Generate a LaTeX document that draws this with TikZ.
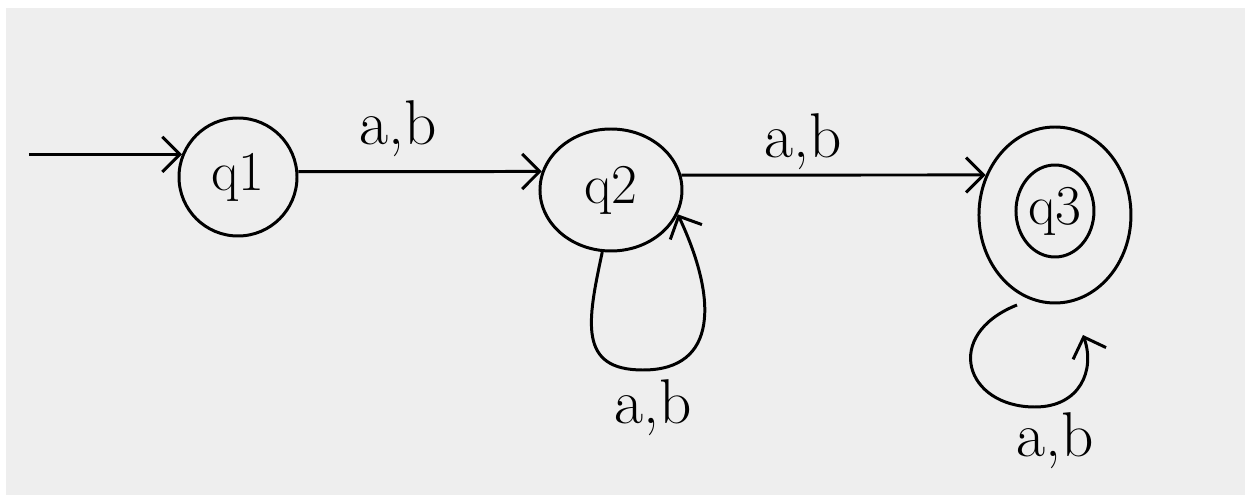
\documentclass[tikz,border=0pt]{standalone}
\usepackage{tikz}
\usetikzlibrary{arrows.meta, positioning, shapes.geometric}
\definecolor{paper}{RGB}{238,238,238}

\begin{document}
\begin{tikzpicture}[
 node distance=4.8cm,
 >={Straight Barb[length=3.5mm,width=7mm]},
 every path/.style={line width=1.7pt},
 state/.style={circle,draw=black,line width=1.7pt,
   minimum size=2.36cm,inner sep=0pt,
   font=\fontsize{32}{36}\selectfont},
 ovalstate/.style={ellipse,draw=black,line width=1.7pt,inner sep=0pt,
   font=\fontsize{32}{36}\selectfont},
 edgelabel/.style={font=\fontsize{36}{40}\selectfont,inner sep=2pt}]
 \useasboundingbox (0,0) rectangle (25.02,10.04);
 \fill[white] (0,0) rectangle (25.02,10.04);
 \fill[paper] (0.12,0.14) rectangle (24.9,9.88);
 \node[state] (q1) at (4.76,6.5) {q1};
 \node[ovalstate,minimum width=2.84cm,minimum height=2.44cm,
   right=4.8cm of q1,yshift=-0.26cm] (q2) {q2};
 \node[ovalstate,minimum width=3.04cm,minimum height=3.52cm,
   right=5.88cm of q2,yshift=-0.5cm] (q3) {};
 \node[ovalstate,minimum width=1.56cm,minimum height=1.84cm]
   (q3in) at ([yshift=0.08cm]q3.center) {q3};
 \coordinate[left=3.06cm of q1.158] (start);
 \coordinate (q2loop) at ([shift={(0.64,-3.6)}]q2.center);
 \coordinate (q3from) at ([shift={(-0.76,-1.8)}]q3.center);
 \coordinate (q3loop) at ([shift={(-0.4,-3.84)}]q3.center);
 \coordinate (q3to) at ([shift={(0.56,-2.4)}]q3.center);
 \draw[->] (start) -- (q1.158);
 \draw[->] (q1.5) --
   node[edgelabel,above=0.2cm,pos=0.41]{a,b} (q2.165);
 \draw[->] (q2.12) --
   node[edgelabel,above=0pt,pos=0.4]{a,b} (q3.150);
 \draw[->] (q2.262) .. controls +(-0.3,-1.4) and +(-1.3,0) .. (q2loop)
   .. controls +(1.5,0) and +(0.8,-1.7) .. (q2.-20);
 \draw[->] (q3from) .. controls +(-1.5,-0.6) and +(-1.4,0) .. (q3loop)
   .. controls +(0.9,0) and +(0.25,-0.7) .. (q3to);
 \node[edgelabel,below=0.1cm of q2loop,xshift=0.2cm] (lbl2) {a,b};
 \node[edgelabel,below=0.02cm of q3loop,xshift=0.4cm] (lbl3) {a,b};
\end{tikzpicture}
\end{document}
